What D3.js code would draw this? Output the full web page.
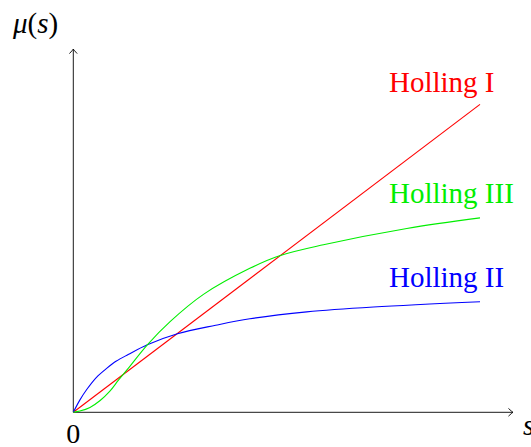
<!DOCTYPE html>
<html>
<head>
<meta charset="utf-8">
<script src="https://cdn.jsdelivr.net/npm/d3@7"></script>
<style>
  body { margin: 0; background: #fff; }
  text { font-family: "Liberation Serif", "DejaVu Serif", serif; }
</style>
</head>
<body>
<script>
// values, in plot units (s from 0 to 10)
var hollingI = [[0, 0], [10, 7.57]];

var hollingII = [
	[0, 0], [0.16, 0.30], [0.33, 0.56], [0.57, 0.86], [0.82, 1.08],
	[1.06, 1.26], [1.35, 1.42], [1.82, 1.66], [2.56, 1.93], [3.5, 2.14],
	[4.34, 2.30], [5.74, 2.47], [7.38, 2.59], [10, 2.72]
];

var hollingIII = [
	[0, 0], [0.16, 0.03], [0.41, 0.12], [0.66, 0.29], [0.9, 0.52],
	[1.11, 0.79], [1.35, 1.08], [1.82, 1.66], [2.38, 2.23], [3.2, 2.9],
	[4.34, 3.54], [5.07, 3.85], [6.15, 4.12], [8.2, 4.52], [10, 4.78]
];

var seriesNames = ["Holling I", "Holling II", "Holling III"];
var seriesColors = ["#ff0000", "#0000ff", "#00ee00"];

var xMax = 10.81;   // end of the s axis
var yMax = 8.93;    // end of the mu axis

var width = 531;
var height = 447;

var svg = d3.select("body").append("svg")
		.attr("width", width)
		.attr("height", height)

var xScale = d3.scaleLinear()
	.domain([0, 10])
	.range([73.3, 480])

var yScale = d3.scaleLinear()
	.domain([0, 10])
	.range([412.3, 412.3 - 406.7])

// arrow head like tikz "->"
var defs = svg.append("defs");
defs.append("marker")
		.attr("id", "arrow")
		.attr("viewBox", "-6 -5 8 10")
		.attr("refX", 0)
		.attr("refY", 0)
		.attr("markerWidth", 8)
		.attr("markerHeight", 10)
		.attr("markerUnits", "userSpaceOnUse")
		.attr("orient", "auto")
	.append("path")
		.attr("d", "M-4.2,-3.6 Q-1.2,-0.8 0,0 Q-1.2,0.8 -4.2,3.6")
		.attr("fill", "none")
		.attr("stroke", "black")
		.attr("stroke-width", 0.9)
		.attr("stroke-linecap", "round")

var axes = svg.append("g")
		.attr("class", "axes")

axes.append("line")
		.attr("x1", xScale(0))
		.attr("y1", yScale(0))
		.attr("x2", xScale(xMax))
		.attr("y2", yScale(0))
		.attr("stroke", "black")
		.attr("stroke-width", 0.9)
		.attr("marker-end", "url(#arrow)")

axes.append("line")
		.attr("x1", xScale(0))
		.attr("y1", yScale(0))
		.attr("x2", xScale(0))
		.attr("y2", yScale(yMax))
		.attr("stroke", "black")
		.attr("stroke-width", 0.9)
		.attr("marker-end", "url(#arrow)")

// axis labels
axes.append("text")
		.attr("x", xScale(0))
		.attr("y", yScale(0) + 31)
		.attr("text-anchor", "middle")
		.attr("font-size", 28)
		.text("0")

axes.append("text")
		.attr("x", xScale(xMax) + 10)
		.attr("y", yScale(0) + 23)
		.attr("font-size", 29)
		.attr("font-style", "italic")
		.text("s")

var muLabel = axes.append("text")
		.attr("x", 13)
		.attr("y", yScale(yMax) - 16)
		.attr("font-size", 29)
muLabel.append("tspan").attr("font-style", "italic").text("μ")
muLabel.append("tspan").text("(")
muLabel.append("tspan").attr("font-style", "italic").text("s")
muLabel.append("tspan").text(")")

var lineGenerator = d3.line()
	.x(d => xScale(d[0]))
	.y(d => yScale(d[1]))
	.curve(d3.curveCatmullRom.alpha(0.5))

var allSeries = [hollingI, hollingII, hollingIII];
var labelOffsets = [-12.3, -15, -15];

var graph = svg.append("g")
		.attr("class", "graph")

allSeries.forEach((data, i) => {
	graph.append("path")
			.datum(data)
			.attr("fill", "none")
			.attr("stroke", seriesColors[i])
			.attr("stroke-width", 1.1)
			.attr("d", lineGenerator)

	var last = data[data.length - 1];
	graph.append("text")
			.attr("x", xScale(last[0]) - 91)
			.attr("y", yScale(last[1]) + labelOffsets[i])
			.attr("font-size", 29)
			.attr("fill", seriesColors[i])
			.text(seriesNames[i])
})
</script>
</body>
</html>
